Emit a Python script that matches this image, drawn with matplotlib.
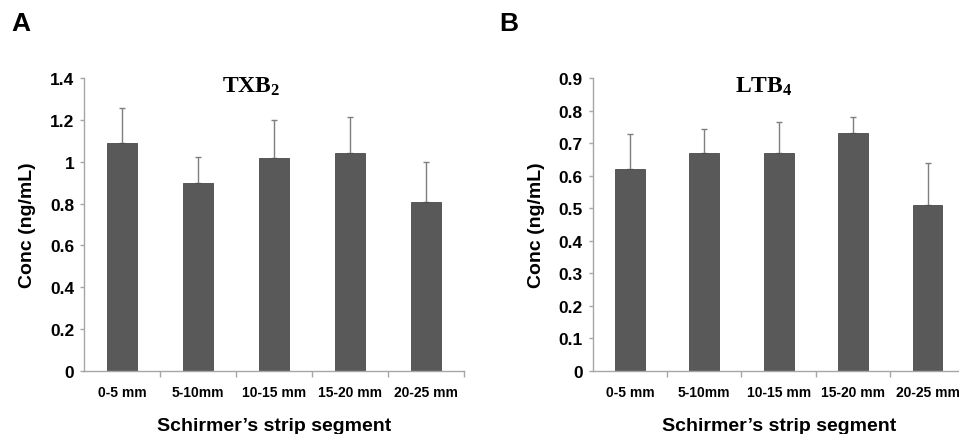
import matplotlib.pyplot as plt
import numpy as np

segments = ['0-5 mm', '5-10mm', '10-15 mm', '15-20 mm', '20-25 mm']
txb2 = [1.09, 0.90, 1.02, 1.04, 0.81]
txb2_err = [0.165, 0.125, 0.18, 0.175, 0.19]
ltb4 = [0.62, 0.67, 0.67, 0.73, 0.51]
ltb4_err = [0.108, 0.073, 0.095, 0.05, 0.128]

plt.rcParams['font.family'] = 'Liberation Sans'
plt.rcParams['mathtext.fontset'] = 'custom'
plt.rcParams['mathtext.bf'] = 'Liberation Serif:bold'
plt.rcParams['mathtext.rm'] = 'Liberation Serif'

bar_col = '#595959'
axis_col = '#a6a6a6'

fig = plt.figure(figsize=(9.59, 4.35), dpi=100)
axA = fig.add_axes([0.0876, 0.145, 0.396, 0.673])
axB = fig.add_axes([0.618, 0.145, 0.388, 0.673])


def panel(ax, vals, errs, ymax, step, title, title_x):
    x = np.arange(len(vals))
    ax.bar(x, vals, width=0.4, color=bar_col, edgecolor='#4a4a4a', linewidth=0.6, zorder=2)
    ax.errorbar(x, vals, yerr=[np.zeros(len(errs)), errs], fmt='none',
                ecolor='#7f7f7f', elinewidth=1, capsize=2.5, capthick=1, zorder=1)
    ax.set_xlim(-0.5, len(vals) - 0.5)
    ax.set_ylim(0, ymax)
    ax.set_yticks(np.arange(0, ymax + step / 2, step))
    ax.set_yticklabels(['0'] + ['%g' % v for v in np.arange(step, ymax + step / 2, step)])
    ax.set_xticks(x)
    ax.set_xticklabels(segments, fontsize=10, fontweight='bold')
    ax.set_xticks(np.arange(0.5, len(vals) - 0.5 + 0.01, 1), minor=True)
    ax.tick_params(axis='x', which='major', length=0, pad=10)
    ax.tick_params(axis='x', which='minor', length=4, color=axis_col, width=1, direction='out')
    ax.tick_params(axis='y', length=3, color=axis_col, width=1, labelsize=12.5, pad=4)
    for lab in ax.get_yticklabels():
        lab.set_fontweight('bold')
    for s in ['top', 'right']:
        ax.spines[s].set_visible(False)
    for s in ['left', 'bottom']:
        ax.spines[s].set_color(axis_col)
        ax.spines[s].set_linewidth(1)
    ax.text(title_x, 0.975, title, transform=ax.transAxes, fontsize=17,
            ha='center', va='center')
    ax.set_ylabel('Conc (ng/mL)', fontsize=14, fontweight='bold', labelpad=10)
    ax.set_xlabel('Schirmer\u2019s strip segment', fontsize=14, fontweight='bold', labelpad=13)


panel(axA, txb2, txb2_err, 1.4, 0.2, r'$\mathbf{TXB_2}$', 0.44)
panel(axB, ltb4, ltb4_err, 0.9, 0.1, r'$\mathbf{LTB_4}$', 0.46)

fig.text(0.012, 0.945, 'A', fontsize=19, fontweight='bold', va='center')
fig.text(0.521, 0.945, 'B', fontsize=19, fontweight='bold', va='center')

fig.savefig('out.png', dpi=100)
